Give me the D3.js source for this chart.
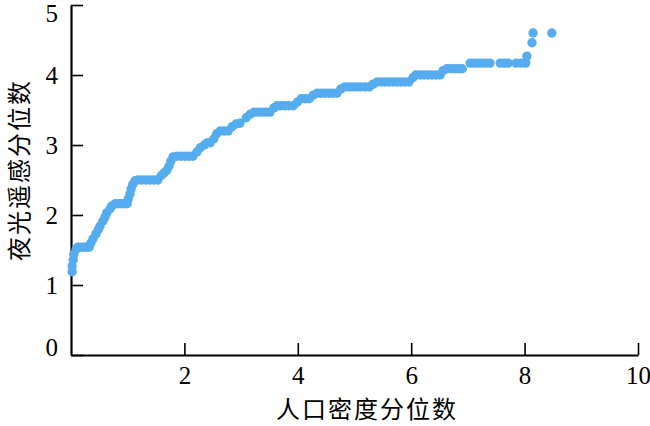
<!DOCTYPE html>
<html>
<head>
<meta charset="utf-8">
<script src="https://cdn.jsdelivr.net/npm/d3@7/dist/d3.min.js"></script>
<style>
  html, body { margin: 0; padding: 0; background: #fff; }
  svg { display: block; }
</style>
</head>
<body>
<svg id="chart" width="650" height="426"></svg>
<script>
// ---- data ----
const xTicks = [2, 4, 6, 8, 10];
const yTicks = [0, 1, 2, 3, 4, 5];
const xTitle = "人口密度分位数";
const yTitle = "夜光遥感分位数";

const popQuantile = [
  0.02, 0.02, 0.04, 0.05, 0.09,
  0.12, 0.18, 0.23, 0.28, 0.32,
  0.35, 0.39, 0.44, 0.48, 0.51, 0.56, 0.60, 0.63, 0.69, 0.72,
  0.78, 0.83, 0.88, 0.93, 0.99,
  1.01, 1.04, 1.06, 1.09, 1.13,
  1.18, 1.25, 1.32, 1.39, 1.46, 1.53,
  1.59, 1.64, 1.69, 1.73, 1.76, 1.80,
  1.87, 1.94, 2.01, 2.08, 2.15,
  2.22, 2.28, 2.35,
  2.40, 2.45,
  2.52, 2.57, 2.63,
  2.70, 2.77,
  2.84, 2.91, 2.98, 3.09, 3.16,
  3.23, 3.30, 3.37, 3.44, 3.51,
  3.58, 3.63,
  3.70, 3.77, 3.84, 3.92,
  3.99, 4.06,
  4.13, 4.20,
  4.27, 4.34,
  4.41, 4.48, 4.55, 4.62, 4.69,
  4.76, 4.83,
  4.90, 4.97, 5.04, 5.11, 5.19, 5.26,
  5.33, 5.40,
  5.47, 5.54, 5.61, 5.68, 5.75, 5.82, 5.89, 5.96,
  6.03, 6.08,
  6.16, 6.23, 6.30, 6.37, 6.44, 6.51,
  6.56, 6.63,
  6.70, 6.77, 6.84, 6.90,
  7.04, 7.11, 7.18, 7.25, 7.32, 7.39,
  7.57, 7.64, 7.71,
  7.85, 7.94, 8.02,
  8.04, 8.13, 8.15, 8.48
];
const lightQuantile = [
  1.19, 1.27, 1.36, 1.44, 1.51,
  1.54, 1.54, 1.54, 1.54, 1.54,
  1.60, 1.66, 1.73, 1.79, 1.84, 1.91, 1.97, 2.03, 2.09, 2.13,
  2.16, 2.16, 2.16, 2.16, 2.16,
  2.23, 2.30, 2.37, 2.44, 2.49,
  2.50, 2.50, 2.50, 2.50, 2.50, 2.50,
  2.56, 2.60, 2.64, 2.70, 2.77, 2.83,
  2.84, 2.84, 2.84, 2.84, 2.84,
  2.90, 2.96, 3.00,
  3.03, 3.03,
  3.09, 3.16, 3.20,
  3.20, 3.20,
  3.26, 3.30, 3.31, 3.39, 3.44,
  3.47, 3.47, 3.47, 3.47, 3.47,
  3.53, 3.56,
  3.56, 3.56, 3.56, 3.56,
  3.61, 3.66,
  3.66, 3.66,
  3.71, 3.74,
  3.74, 3.74, 3.74, 3.74, 3.74,
  3.80, 3.83,
  3.83, 3.83, 3.83, 3.83, 3.83, 3.83,
  3.87, 3.90,
  3.90, 3.90, 3.90, 3.90, 3.90, 3.90, 3.90, 3.90,
  3.96, 4.00,
  4.00, 4.00, 4.00, 4.00, 4.00, 4.00,
  4.06, 4.09,
  4.09, 4.09, 4.09, 4.09,
  4.17, 4.17, 4.17, 4.17, 4.17, 4.17,
  4.17, 4.17, 4.17,
  4.17, 4.17, 4.17,
  4.27, 4.46, 4.60, 4.60
];

// ---- chart ----
const svg = d3.select("#chart");
const x = d3.scaleLinear().domain([0, 10]).range([71, 638]);
const y = d3.scaleLinear().domain([0, 5]).range([355, 5]);

const serif = "'Liberation Serif', 'Times New Roman', serif";
const cjk = "'Noto Sans CJK SC', sans-serif";

const xAxis = svg.append("g")
  .attr("transform", "translate(0,355)")
  .call(d3.axisBottom(x).tickValues(xTicks).tickFormat(d3.format("d"))
    .tickSizeInner(-12).tickSizeOuter(0).tickPadding(11));
const yAxis = svg.append("g")
  .attr("transform", "translate(71,0)")
  .call(d3.axisLeft(y).tickValues(yTicks).tickFormat(d3.format("d"))
    .tickSizeInner(-12).tickSizeOuter(0).tickPadding(13));

[xAxis, yAxis].forEach(g => {
  g.select(".domain").attr("stroke", "#000").attr("stroke-width", 2.2);
  g.selectAll(".tick line").attr("stroke", "#000").attr("stroke-width", 1.6);
  g.selectAll(".tick text").attr("fill", "#000")
    .style("font-family", serif).style("font-size", "25px");
});
// end labels nudged inward as in the reference
yAxis.selectAll(".tick text")
  .attr("y", d => d === 0 ? -8 : d === 5 ? 8 : 0);

const pts = popQuantile.map((v, i) => ({ px: v, ly: lightQuantile[i] }));
svg.append("g").selectAll("circle").data(pts).join("circle")
  .attr("cx", d => x(d.px))
  .attr("cy", d => y(d.ly))
  .attr("r", 4.7)
  .attr("fill", "#55acee");

svg.append("text")
  .attr("x", 367).attr("y", 418)
  .attr("text-anchor", "middle")
  .style("font-family", cjk).style("font-size", "24px")
  .style("letter-spacing", "2px")
  .attr("fill", "#000")
  .text(xTitle);

svg.append("text")
  .attr("transform", "translate(28,170) rotate(-90)")
  .attr("text-anchor", "middle")
  .style("font-family", cjk).style("font-size", "24px")
  .style("letter-spacing", "2px")
  .attr("fill", "#000")
  .text(yTitle);
</script>
</body>
</html>
